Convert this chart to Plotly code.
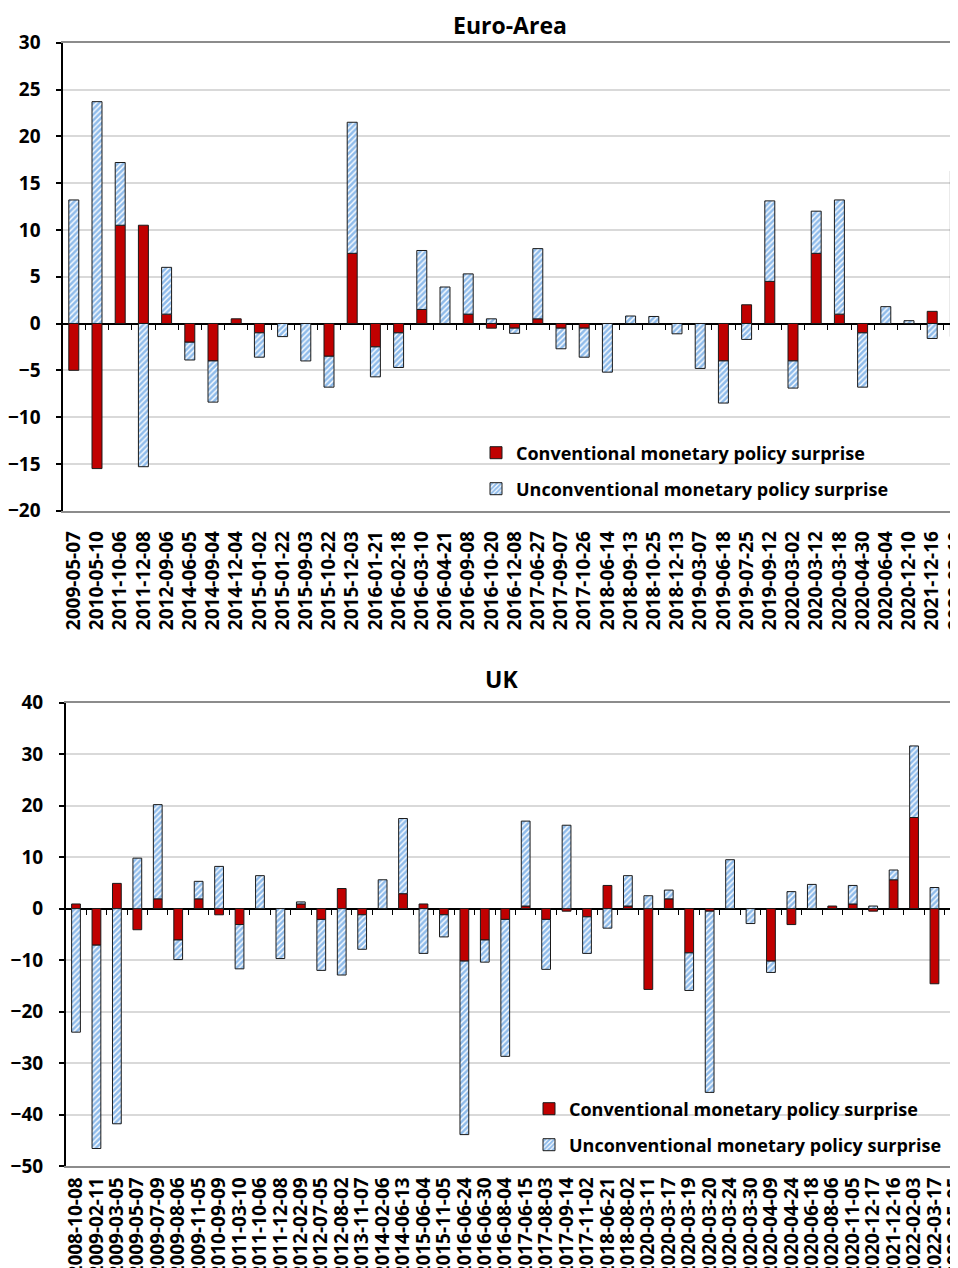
import plotly.graph_objects as go

# ---------------- data ----------------
cats_ea = ["2009-05-07", "2010-05-10", "2011-10-06", "2011-12-08", "2012-09-06", "2014-06-05",
           "2014-09-04", "2014-12-04", "2015-01-02", "2015-01-22", "2015-09-03", "2015-10-22",
           "2015-12-03", "2016-01-21", "2016-02-18", "2016-03-10", "2016-04-21", "2016-09-08",
           "2016-10-20", "2016-12-08", "2017-06-27", "2017-09-07", "2017-10-26", "2018-06-14",
           "2018-09-13", "2018-10-25", "2018-12-13", "2019-03-07", "2019-06-18", "2019-07-25",
           "2019-09-12", "2020-03-02", "2020-03-12", "2020-03-18", "2020-04-30", "2020-06-04",
           "2020-12-10", "2021-12-16", "2022-03-10"]
conv_ea = [-5.0, -15.5, 10.5, 10.5, 1.0, -2.0, -4.0, 0.5, -1.0, 0.0, 0.0, -3.5, 7.5, -2.5, -1.0,
           1.5, 0.0, 1.0, -0.5, -0.5, 0.5, -0.5, -0.5, 0.0, 0.0, 0.0, 0.0, 0.0, -4.0, 2.0, 4.5,
           -4.0, 7.5, 1.0, -1.0, 0.0, 0.0, 1.3, -1.4]
unconv_ea = [13.2, 23.7, 6.7, -15.3, 5.0, -1.9, -4.4, 0.0, -2.6, -1.4, -4.0, -3.3, 14.0, -3.2,
             -3.7, 6.3, 3.9, 4.3, 0.5, -0.55, 7.5, -2.2, -3.1, -5.2, 0.8, 0.75, -1.1, -4.8, -4.5,
             -1.7, 8.6, -2.9, 4.5, 12.2, -5.8, 1.8, 0.3, -1.6, 16.3]

cats_uk = ["2008-10-08", "2009-02-11", "2009-03-05", "2009-05-07", "2009-07-09", "2009-08-06",
           "2009-11-05", "2010-09-09", "2011-03-10", "2011-10-06", "2011-12-08", "2012-02-09",
           "2012-07-05", "2012-08-02", "2013-11-07", "2014-02-06", "2014-06-13", "2015-06-04",
           "2015-11-05", "2016-06-24", "2016-06-30", "2016-08-04", "2017-06-15", "2017-08-03",
           "2017-09-14", "2017-11-02", "2018-06-21", "2018-08-02", "2020-03-11", "2020-03-17",
           "2020-03-19", "2020-03-20", "2020-03-24", "2020-03-30", "2020-04-09", "2020-04-24",
           "2020-06-18", "2020-08-06", "2020-11-05", "2020-12-17", "2021-12-16", "2022-02-03",
           "2022-03-17", "2022-05-05"]
conv_uk = [0.9, -7.1, 4.9, -4.1, 1.9, -6.1, 1.9, -1.2, -3.1, 0.0, 0.0, 0.9, -2.1, 3.9, -1.2, 0.0,
           2.9, 0.9, -1.2, -10.2, -6.1, -2.1, 0.5, -2.1, -0.5, -1.6, 4.5, 0.5, -15.7, 1.9, -8.6,
           -0.5, 0.0, 0.0, -10.2, -3.1, 0.0, 0.5, 0.9, -0.5, 5.6, 17.7, -14.6, -10.2]
unconv_uk = [-24.0, -39.5, -41.8, 9.8, 18.3, -3.8, 3.4, 8.2, -8.6, 6.4, -9.7, 0.4, -9.9, -12.9,
             -6.7, 5.6, 14.6, -8.7, -4.3, -33.7, -4.3, -26.6, 16.5, -9.7, 16.2, -7.1, -3.8, 5.9,
             2.5, 1.7, -7.3, -35.2, 9.5, -2.9, -2.2, 3.3, 4.7, 0.0, 3.6, 0.5, 1.9, 13.9, 4.1, 0.8]

series_names = ["Conventional monetary policy surprise", "Unconventional monetary policy surprise"]
titles = ["Euro-Area", "UK"]

# ---------------- style ----------------
OFF = 8  # page body margin: figure is drawn 8 px right/down of the window corner
W, H = 958 - OFF, 1268 - OFF
FONT = "Open Sans"
RED = "#C00000"
HATCH_FG = "#1F78D6"
GRID = "#D9D9D9"
FRAME = "#8C8C8C"


def nz(vals):
    return [v if v != 0 else None for v in vals]


def px_x(sx):  # screen x -> paper fraction
    return (sx - OFF) / W


def px_y(sy):  # screen y -> paper fraction
    return 1 - (sy - OFF) / H


fig = go.Figure()

panels = [
    dict(cats=cats_ea, conv=conv_ea, unc=unconv_ea, xa="x", ya="y", xt="x3",
         yr=[-20, 30], dt=5, left=63.3, top=42.7, bottom=510.7, c0=73.8, step=23.2,
         leg=("legend", "legend2"), title_xy=(510, 25), standoff=11),
    dict(cats=cats_uk, conv=conv_uk, unc=unconv_uk, xa="x2", ya="y2", xt="x4",
         yr=[-50, 40], dt=10, left=66.0, top=702.7, bottom=1166.0, c0=76.0, step=20.44,
         leg=("legend3", "legend4"), title_xy=(501, 679), standoff=2),
]

layout = dict(
    width=W, height=H, autosize=False,
    margin=dict(l=0, r=0, t=0, b=0, pad=0, autoexpand=False),
    paper_bgcolor="white", plot_bgcolor="white",
    barmode="relative", bargap=0.57,
    font=dict(family=FONT, color="black"),
    annotations=[],
)

leg_rows = {"legend": 453, "legend2": 489, "legend3": 1109, "legend4": 1145}
leg_x = {"legend": 476, "legend2": 476, "legend3": 529, "legend4": 529}

for i, p in enumerate(panels):
    n = len(p["cats"])
    xsuf = p["xa"][1:]
    ysuf = p["ya"][1:]
    fig.add_trace(go.Bar(
        x=p["cats"], y=nz(p["conv"]), name=series_names[0], xaxis=p["xa"], yaxis=p["ya"],
        marker=dict(color=RED, line=dict(color="#1a1a1a", width=1)),
        legend=p["leg"][0],
    ))
    fig.add_trace(go.Bar(
        x=p["cats"], y=nz(p["unc"]), name=series_names[1], xaxis=p["xa"], yaxis=p["ya"],
        marker=dict(color="white", line=dict(color="#1a1a1a", width=1),
                    pattern=dict(shape="/", fgcolor=HATCH_FG, bgcolor="white", size=4, solidity=0.65)),
        legend=p["leg"][1],
    ))
    # invisible anchor trace for the zero-line tick axis
    fig.add_trace(go.Scatter(x=[0], y=[0], xaxis=p["xt"], yaxis=p["ya"], mode="markers",
                             marker=dict(opacity=0), showlegend=False, hoverinfo="skip"))

    dom_x = [px_x(p["left"]), 1.0]
    dom_y = [px_y(p["bottom"]), px_y(p["top"])]
    r0 = -(p["c0"] - p["left"]) / p["step"]
    r1 = r0 + (W + OFF - p["left"]) / p["step"]
    zero_pos = dom_y[0] + (0 - p["yr"][0]) / (p["yr"][1] - p["yr"][0]) * (dom_y[1] - dom_y[0])

    xname = "xaxis" + xsuf
    yname = "yaxis" + ysuf
    xtname = "xaxis" + p["xt"][1:]
    layout[xname] = dict(
        domain=dom_x, anchor=p["ya"], type="category", categoryorder="array",
        categoryarray=p["cats"], range=[r0, r1], automargin=False,
        tickmode="array", tickvals=p["cats"], ticktext=p["cats"],
        showline=True, linecolor=FRAME, linewidth=1.5, mirror=True, ticks="", showgrid=False,
        tickangle=-90,
        tickfont=dict(family=FONT, size=19, weight="bold", color="black"),
        ticklabelstandoff=p["standoff"],
    )
    layout[yname] = dict(
        domain=dom_y, anchor=p["xa"], range=p["yr"], dtick=p["dt"], tick0=0, automargin=False,
        showgrid=True, gridcolor=GRID, gridwidth=1.5,
        zeroline=True, zerolinecolor="black", zerolinewidth=1.5,
        showline=True, linecolor="black", linewidth=2,
        ticks="outside", ticklen=5, tickwidth=1.5, tickcolor="black",
        tickfont=dict(family=FONT, size=19, weight="bold", color="black"),
        ticklabelstandoff=12,
    )
    layout[xtname] = dict(
        overlaying=p["xa"], anchor="free", position=zero_pos, domain=dom_x, automargin=False,
        range=[r0, r1], tickmode="array", tickvals=[k + 0.5 for k in range(n)],
        ticks="outside", ticklen=5, tickwidth=1.2, tickcolor="black",
        showticklabels=False, showgrid=False, zeroline=False, showline=False,
    )
    tx, ty = p["title_xy"]
    layout["annotations"].append(dict(
        text=titles[i], x=px_x(tx), y=px_y(ty), xref="paper", yref="paper",
        xanchor="center", yanchor="middle", showarrow=False,
        font=dict(family=FONT, size=23, weight="bold", color="black"),
    ))

for lg, yy in leg_rows.items():
    layout[lg] = dict(
        x=px_x(leg_x[lg]), y=px_y(yy), xanchor="left", yanchor="middle",
        bgcolor="rgba(0,0,0,0)", borderwidth=0,
        font=dict(family=FONT, size=18, weight="bold", color="black"),
    )

fig.update_layout(**layout)
fig.write_html("out.html")
